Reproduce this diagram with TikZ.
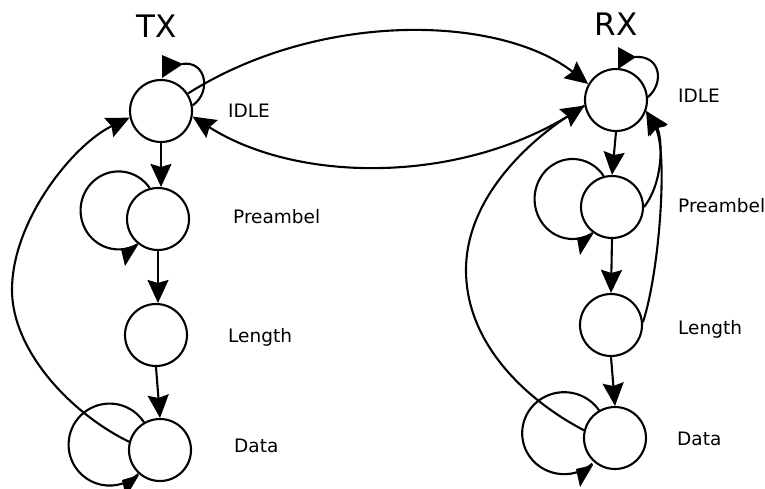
\documentclass[tikz,border=0pt]{standalone}
\usepackage{fontspec}
\setmainfont{DejaVu Sans}
\usetikzlibrary{arrows.meta}
\begin{document}
\begin{tikzpicture}[x=1pt,y=-1pt,
  st/.style={circle,draw,line width=2.1pt,minimum size=62pt,inner sep=0pt},
  lbl/.style={anchor=base west,font=\fontsize{18.5}{20}\selectfont,inner sep=0pt},
  ttl/.style={anchor=base,font=\fontsize{31}{34}\selectfont,inner sep=0pt},
  edge/.style={line width=2.1pt,-{Stealth[length=23pt,width=21pt,inset=3pt]}},
  loopline/.style={line width=2.1pt},
  head/.style={fill=black}]
\clip (0,0) rectangle (765,488);
% titles
\node[ttl] (txt) at (157,37) {TX};
\node[ttl] (rxt) at (616,35) {RX};
% TX states
\node[st] (ti) at (161,111) {};
\node[st] (tp) at (158,219) {};
\node[st] (tl) at (156,335) {};
\node[st] (td) at (160,450) {};
% RX states
\node[st] (ri) at (616,100) {};
\node[st] (rp) at (612,207) {};
\node[st] (rl) at (611,325) {};
\node[st] (rd) at (615,438) {};
% labels
\node[lbl] (l1) at (228,117) {IDLE};
\node[lbl] (l2) at (233,223) {Preambel};
\node[lbl] (l3) at (228,342) {Length};
\node[lbl] (l4) at (234,452) {Data};
\node[lbl] (l5) at (678,102) {IDLE};
\node[lbl] (l6) at (678,212) {Preambel};
\node[lbl] (l7) at (678,334) {Length};
\node[lbl] (l8) at (677,445) {Data};
% vertical transitions
\draw[edge] (ti.south) -- (ti.south |- tp.north);
\draw[edge] (tp.south) -- (tp.south |- tl.north);
\draw[edge] (tl.south) -- (td.north);
\draw[edge] (ri.south) -- (rp.north);
\draw[edge] (rp.south) -- (rl.north);
\draw[edge] (rl.south) -- (rd.north);
% TX <-> RX
\draw[edge] (ti.33) .. controls (320,10) and (500,15) .. (ri.150);
\draw[edge] (ri.190) .. controls (470,185) and (300,185) .. (ti.-10);
% back edges
\draw[edge] (td.165) .. controls (70,413) and (12,350) .. (12,290)
  .. controls (12,220) and (74,144) .. (ti.192);
\draw[edge] (rd.166) .. controls (528,401) and (466,345) .. (466,270)
  .. controls (466,195) and (534,138) .. (ri.190);
\draw[edge] (rp.0) .. controls (665,180) and (662,135) .. (ri.-20);
\draw[edge] (rl.5) .. controls (660,270) and (668,150) .. (ri.-20);
% self loops
\draw[loopline] (ti.10) .. controls (212,92) and (206,60) .. (182,64);
\fill[head] (162,55) -- (162,78) -- (183,64) -- cycle;
\draw[loopline] (ri.5) .. controls (665,82) and (660,55) .. (635,57);
\fill[head] (618,47) -- (618,69) -- (636,57) -- cycle;
\draw[loopline] (tp.105) arc[start angle=-35, end angle=-300, x radius=38, y radius=39];
\fill[head] (121,249) -- (138,245) -- (125,266) -- cycle;
\draw[loopline] (td.120) arc[start angle=-33, end angle=-314, x radius=41, y radius=41];
\fill[head] (122,480) -- (139,475) -- (126,497) -- cycle;
\draw[loopline] (rp.105) arc[start angle=-35, end angle=-302, x radius=38, y radius=40];
\fill[head] (577,238) -- (593,234) -- (580,255) -- cycle;
\draw[loopline] (rd.120) arc[start angle=-34, end angle=-312, x radius=42, y radius=41];
\fill[head] (576,469) -- (593,465) -- (580,487) -- cycle;
\end{tikzpicture}
\end{document}
